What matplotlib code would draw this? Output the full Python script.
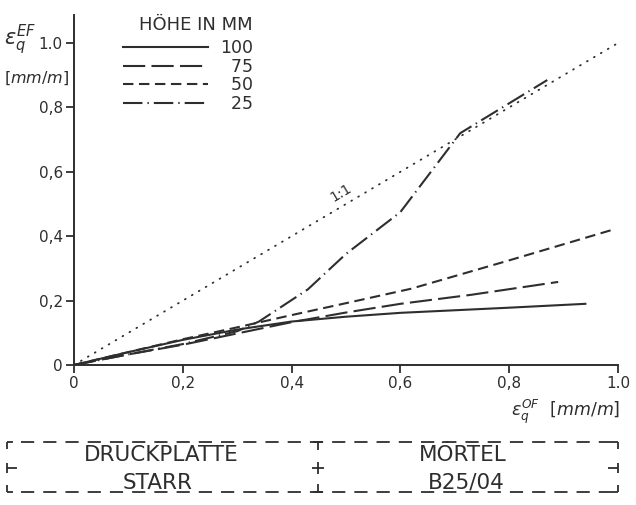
import matplotlib
matplotlib.use('Agg')
import matplotlib.pyplot as plt

# ---------------- data ----------------
heights = ['100', '75', '50', '25']

x_100 = [0, 0.1, 0.2, 0.3, 0.4, 0.5, 0.6, 0.7, 0.8, 0.94]
y_100 = [0, 0.04, 0.078, 0.11, 0.135, 0.15, 0.162, 0.17, 0.178, 0.19]

x_75 = [0, 0.1, 0.2, 0.3, 0.4, 0.5, 0.6, 0.73, 0.89]
y_75 = [0, 0.033, 0.063, 0.098, 0.133, 0.163, 0.19, 0.218, 0.258]

x_50 = [0, 0.1, 0.2, 0.3, 0.4, 0.5, 0.62, 0.8, 0.99]
y_50 = [0, 0.04, 0.08, 0.117, 0.155, 0.192, 0.237, 0.325, 0.42]

x_25 = [0, 0.1, 0.2, 0.3, 0.34, 0.43, 0.5, 0.6, 0.71, 0.87]
y_25 = [0, 0.033, 0.065, 0.105, 0.135, 0.235, 0.345, 0.475, 0.72, 0.885]

x_ref = [0, 1.0]
y_ref = [0, 1.0]

xticks = [0, 0.2, 0.4, 0.6, 0.8, 1.0]
xtick_labels = ['0', '0,2', '0,4', '0,6', '0,8', '1.0']
yticks = [0, 0.2, 0.4, 0.6, 0.8, 1.0]
ytick_labels = ['0', '0,2', '0,4', '0,6', '0,8', '1.0']

legend_title = 'HÖHE IN MM'
box_left_top = 'DRUCKPLATTE'
box_left_bottom = 'STARR'
box_right_top = 'MÖRTEL'
box_right_bottom = 'B25/04'

# ---------------- style ----------------
plt.rcParams['font.family'] = ['DejaVu Sans']
plt.rcParams['mathtext.fontset'] = 'dejavusans'
plt.rcParams['lines.scale_dashes'] = False

INK = '#2e2e2e'
W, H = 636, 505


def fx(p):
    return p / W


def fy(p):
    return 1 - p / H


fig = plt.figure(figsize=(W / 100, H / 100), dpi=100)
fig.patch.set_facecolor('white')

ax = fig.add_axes([fx(74), fy(365), 544 / W, 350 / H])
ax.set_facecolor('none')
ax.set_xlim(0, 1.0)
ax.set_ylim(0, 1.087)

for s in ['top', 'right']:
    ax.spines[s].set_visible(False)
for s in ['left', 'bottom']:
    ax.spines[s].set_linewidth(1.4)
    ax.spines[s].set_color(INK)

ax.set_xticks(xticks)
ax.set_xticklabels(xtick_labels)
ax.set_yticks(yticks)
ax.set_yticklabels(ytick_labels)
ax.tick_params(axis='both', direction='out', length=6, width=1.3,
               colors=INK, labelsize=11, pad=2)

lw = 1.5
l100, = ax.plot(x_100, y_100, color=INK, lw=lw, linestyle='-')
l75, = ax.plot(x_75, y_75, color=INK, lw=lw, linestyle=(0, (16, 4.5)))
l50, = ax.plot(x_50, y_50, color=INK, lw=lw, linestyle=(0, (7.5, 4)))
l25, = ax.plot(x_25, y_25, color=INK, lw=lw,
               linestyle=(0, (14, 3.6, 1, 3.6)))
ax.plot(x_ref, y_ref, color=INK, lw=1.3, linestyle=(0, (0.6, 5.2)),
        dash_capstyle='round')

ax.text(0.49, 0.535, '1:1', rotation=31, ha='center', va='center',
        fontsize=10, color=INK)

leg = ax.legend([l100, l75, l50, l25],
                ['100', '\u200775', '\u200750', '\u200725'],
                loc='upper left',
                bbox_to_anchor=((123 - 74) / 544, (365 - 39) / 350),
                frameon=False, borderpad=0, borderaxespad=0,
                handlelength=4.9, handletextpad=0.7, labelspacing=0.04,
                fontsize=12.5)
for t in leg.get_texts():
    t.set_color(INK)
fig.text(fx(253), fy(25), legend_title, fontsize=13, color=INK,
         ha='right', va='center')

# axis labels
fig.text(fx(4), fy(40), r'$\varepsilon_q^{EF}$', fontsize=15, color=INK,
         ha='left', va='center')
fig.text(fx(4), fy(78), r'$[mm/m]$', fontsize=11.5, color=INK,
         ha='left', va='center')
fig.text(fx(620), fy(412), r'$\varepsilon_q^{OF}\ \ [mm/m]$', fontsize=12.5,
         color=INK, ha='right', va='center')

# ---------------- dashed caption box ----------------
ov = fig.add_axes([0, 0, 1, 1], zorder=-1)
ov.set_xlim(0, W)
ov.set_ylim(H, 0)
ov.axis('off')

bl, br, bt, bb, bm, bc = 7, 618, 442, 492, 318, 468
dash = (0, (9.5, 6.5))
blw = 1.3
ov.plot([bl + 14, br - 6], [bt, bt], color=INK, lw=blw, linestyle=dash)
ov.plot([bl + 14, br - 6], [bb, bb], color=INK, lw=blw, linestyle=dash)
# corners
for (xa, xb, ya, yb) in [
    (bl, bl + 6, bt, bt), (bl, bl, bt, bt + 7),
    (bl, bl + 6, bb, bb), (bl, bl, bb, bb - 7),
    (br - 6, br, bt, bt), (br, br, bt, bt + 7),
    (br - 6, br, bb, bb), (br, br, bb, bb - 7),
    # side ticks
    (bl, bl, bc - 5, bc + 5), (bl, bl + 10, bc, bc),
    (br, br, bc - 5, bc + 5), (br - 10, br, bc, bc),
    # middle divider
    (bm - 5, bm + 5, bt, bt), (bm, bm, bt, bt + 8),
    (bm - 5, bm + 5, bb, bb), (bm, bm, bb, bb - 8),
    (bm, bm, bc - 6, bc + 6), (bm - 6, bm + 6, bc, bc),
]:
    ov.plot([xa, xb], [ya, yb], color=INK, lw=blw, solid_capstyle='butt')

tkw = dict(fontsize=15.5, color=INK, ha='center', va='center')
fig.text(fx(161), fy(455), box_left_top, **tkw)
fig.text(fx(158), fy(483), box_left_bottom, **tkw)
fig.text(fx(463), fy(455), box_right_top, **tkw)
fig.text(fx(466), fy(483), box_right_bottom, **tkw)

fig.savefig('out.png', dpi=100, facecolor='white')
